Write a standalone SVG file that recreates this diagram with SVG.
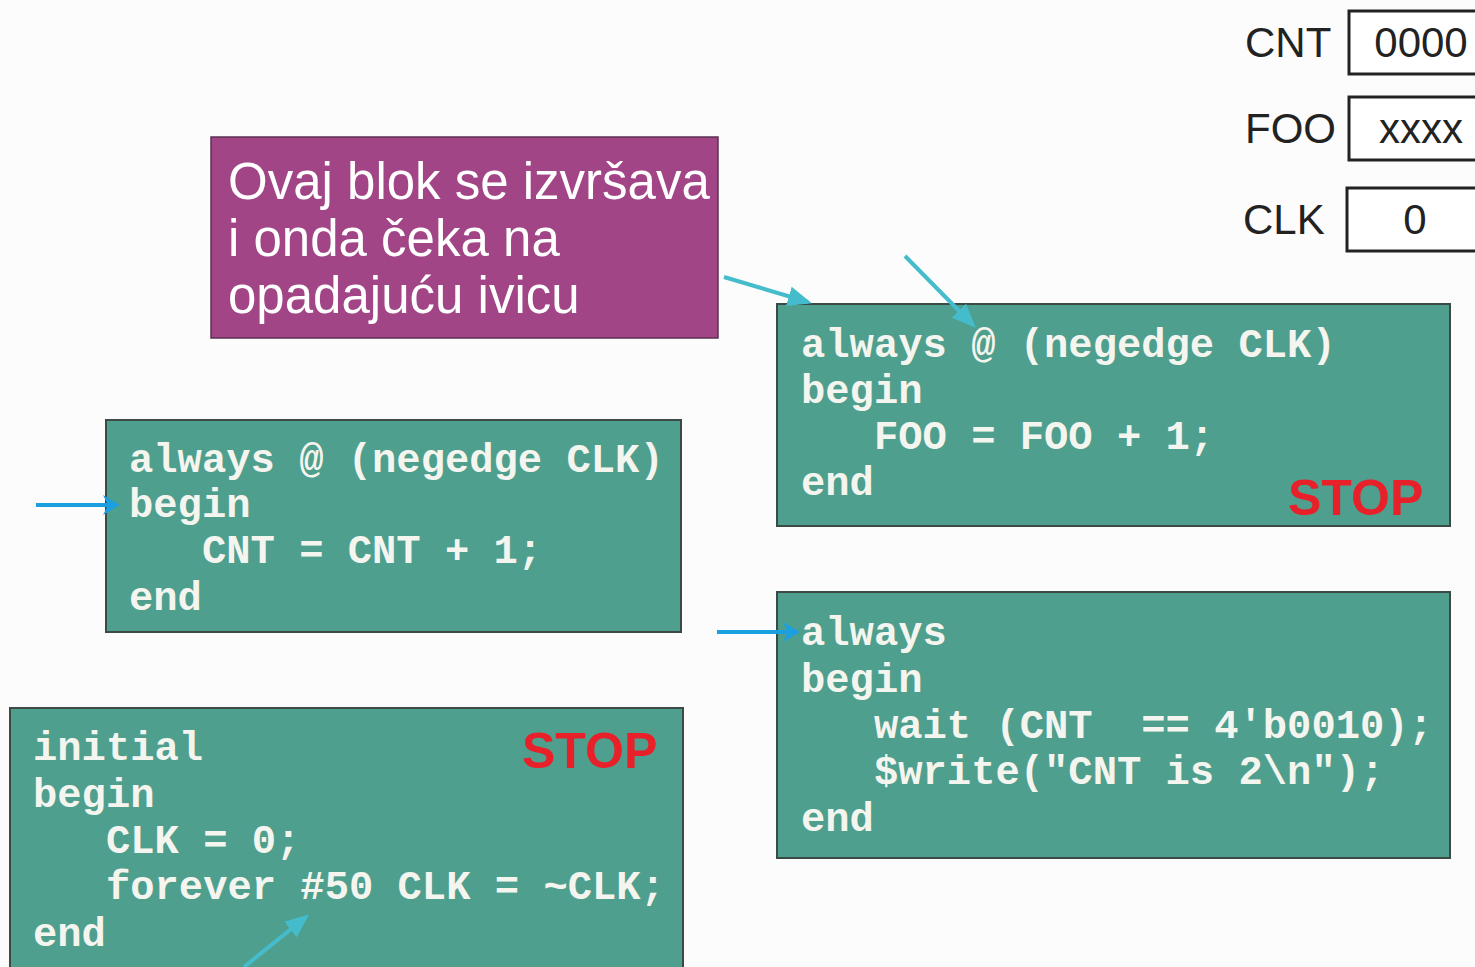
<svg xmlns="http://www.w3.org/2000/svg" width="1475" height="967" viewBox="0 0 1475 967">
  <defs>
    <style>
      .bg { fill: #fcfcfc; }
      .code-box { fill: #4f9f8e; stroke: #3c4a46; stroke-width: 2; }
      .code { font-family: "Liberation Mono", "Courier New", monospace; font-weight: bold; font-size: 40.5px; fill: #f5f5ef; white-space: pre; }
      .note-box { fill: #a14587; stroke: #5a3050; stroke-width: 1.5; }
      .note { font-family: "Liberation Sans", Arial, sans-serif; font-size: 51px; fill: #ffffff; }
      .stop { font-family: "Liberation Sans", Arial, sans-serif; font-weight: bold; font-size: 50px; fill: #e8202a; }
      .reg-label { font-family: "Liberation Sans", Arial, sans-serif; font-size: 42px; fill: #222222; }
      .reg-value { font-family: "Liberation Sans", Arial, sans-serif; font-size: 42px; fill: #222222; text-anchor: middle; }
      .reg-box { fill: #ffffff; stroke: #222222; stroke-width: 3; }
      .blue { stroke: #1a9fe0; stroke-width: 4; fill: none; }
      .cyan { stroke: #45bccc; stroke-width: 4; fill: none; }
    </style>
    <marker id="headBlue" viewBox="0 0 12 12" refX="11" refY="6" markerWidth="5" markerHeight="5" markerUnits="strokeWidth" orient="auto">
      <path d="M2,0 L12,6 L2,12 L5,6 Z" fill="#1a9fe0"/>
    </marker>
    <marker id="headCyan" viewBox="0 0 12 12" refX="10" refY="6" markerWidth="6" markerHeight="6" markerUnits="strokeWidth" orient="auto">
      <path d="M0,1 L12,6 L0,11 Z" fill="#45bccc"/>
    </marker>
  </defs>

  <rect class="bg" x="0" y="0" width="1475" height="967"/>

  <!-- register values -->
  <g id="reg-cnt">
    <text class="reg-label" x="1245" y="57">CNT</text>
    <rect class="reg-box" x="1349" y="11" width="140" height="63"/>
    <text class="reg-value" x="1421" y="57">0000</text>
  </g>
  <g id="reg-foo">
    <text class="reg-label" x="1245" y="143">FOO</text>
    <rect class="reg-box" x="1349" y="97" width="140" height="63"/>
    <text class="reg-value" x="1421" y="143">xxxx</text>
  </g>
  <g id="reg-clk">
    <text class="reg-label" x="1243" y="234">CLK</text>
    <rect class="reg-box" x="1347" y="188" width="140" height="63"/>
    <text class="reg-value" x="1415" y="234">0</text>
  </g>

  <!-- explanatory note -->
  <g id="note">
    <rect class="note-box" x="211" y="137" width="507" height="201"/>
    <text class="note" x="228" y="199">Ovaj blok se izvršava</text>
    <text class="note" x="228" y="256">i onda čeka na</text>
    <text class="note" x="228" y="313">opadajuću ivicu</text>
  </g>

  <!-- always @ (negedge CLK) FOO block -->
  <g id="block-foo">
    <rect class="code-box" x="777" y="304" width="673" height="222"/>
    <text class="code" x="801" y="357">always @ (negedge CLK)</text>
    <text class="code" x="801" y="403">begin</text>
    <text class="code" x="801" y="449">   FOO = FOO + 1;</text>
    <text class="code" x="801" y="495">end</text>
    <text class="stop" x="1288" y="515">STOP</text>
  </g>

  <!-- always @ (negedge CLK) CNT block -->
  <g id="block-cnt">
    <rect class="code-box" x="106" y="420" width="575" height="212"/>
    <text class="code" x="129" y="472">always @ (negedge CLK)</text>
    <text class="code" x="129" y="517">begin</text>
    <text class="code" x="129" y="563">   CNT = CNT + 1;</text>
    <text class="code" x="129" y="610">end</text>
  </g>

  <!-- always wait block -->
  <g id="block-wait">
    <rect class="code-box" x="777" y="592" width="673" height="266"/>
    <text class="code" x="801" y="645">always</text>
    <text class="code" x="801" y="692">begin</text>
    <text class="code" x="801" y="738">   wait (CNT  == 4'b0010);</text>
    <text class="code" x="801" y="784">   $write("CNT is 2\n");</text>
    <text class="code" x="801" y="831">end</text>
  </g>

  <!-- initial block -->
  <g id="block-initial">
    <rect class="code-box" x="10" y="708" width="673" height="275"/>
    <text class="code" x="33" y="760">initial</text>
    <text class="code" x="33" y="807">begin</text>
    <text class="code" x="33" y="853">   CLK = 0;</text>
    <text class="code" x="33" y="899">   forever #50 CLK = ~CLK;</text>
    <text class="code" x="33" y="946">end</text>
    <text class="stop" x="522" y="768">STOP</text>
  </g>

  <!-- execution pointers -->
  <g id="connectors">
    <line class="blue" x1="36" y1="505" x2="118" y2="505" marker-end="url(#headBlue)"/>
    <line class="blue" x1="717" y1="632" x2="798" y2="632" marker-end="url(#headBlue)"/>
    <line class="cyan" x1="724" y1="277" x2="808" y2="302" marker-end="url(#headCyan)"/>
    <line class="cyan" x1="905" y1="256" x2="973" y2="325" marker-end="url(#headCyan)"/>
    <line class="cyan" x1="244" y1="967" x2="306" y2="917" marker-end="url(#headCyan)"/>
  </g>
</svg>
